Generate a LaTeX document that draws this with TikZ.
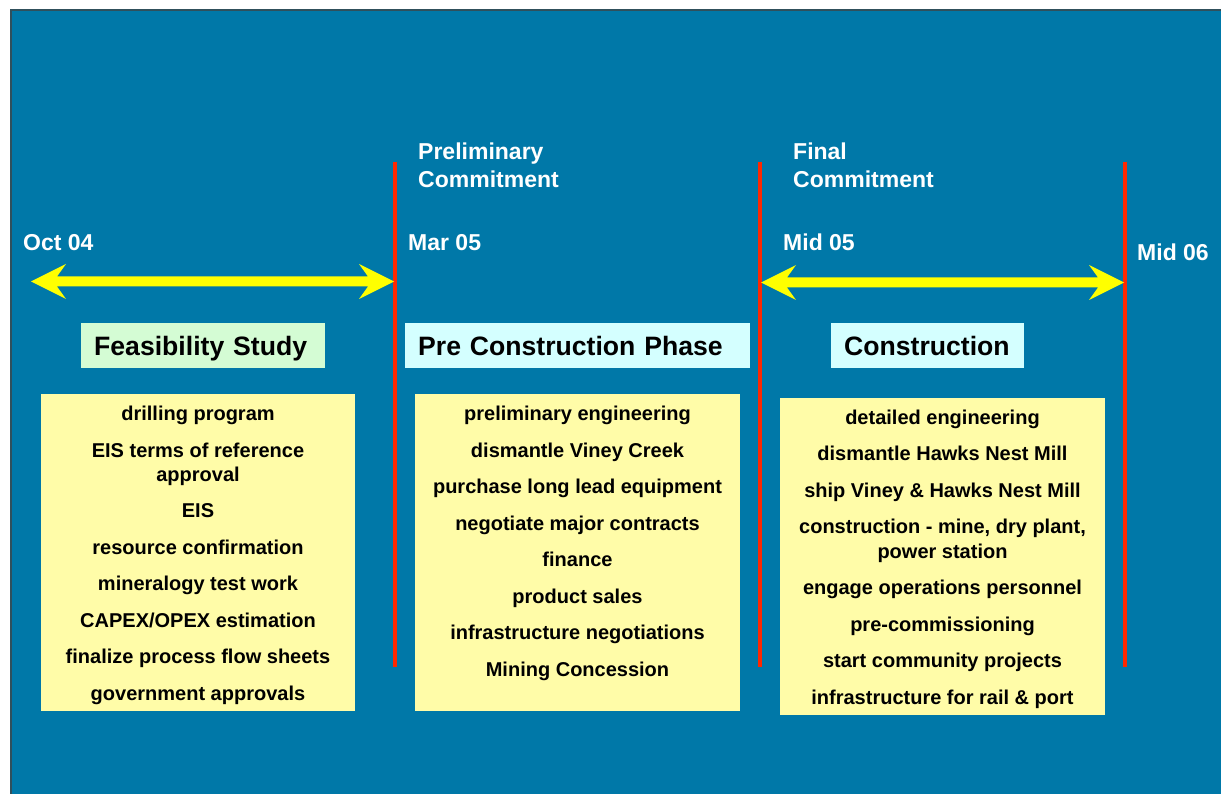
\documentclass[tikz,border=0pt]{standalone}
\usepackage{fontspec}
\setmainfont{Liberation Sans}
\usetikzlibrary{calc}
\definecolor{bgblue}{RGB}{0,120,168}
\definecolor{edgegray}{RGB}{48,80,92}
\definecolor{redline}{RGB}{255,40,0}
\definecolor{spanyellow}{RGB}{255,255,0}
\definecolor{noteyellow}{RGB}{255,252,168}
\definecolor{titlegreen}{RGB}{212,252,212}
\definecolor{titlecyan}{RGB}{212,255,255}
\newcommand{\spanarrow}[2]{%
  \fill[spanfill] (#1) -- ($(#1)+(35,-17.5)$) -- ($(#1)+(26,-5)$) -- ($(#2)+(-26,-5)$)
    -- ($(#2)+(-35,-17.5)$) -- (#2) -- ($(#2)+(-35,17.5)$) -- ($(#2)+(-26,5)$)
    -- ($(#1)+(26,5)$) -- ($(#1)+(35,17.5)$) -- cycle;}
\tikzset{
  lst/.style={font=\bfseries\fontsize{20}{24}\selectfont, text=black, anchor=base, inner sep=0pt},
  datelbl/.style={font=\bfseries\fontsize{23}{28}\selectfont, text=white, anchor=base west, inner sep=0pt},
  ttl/.style={font=\bfseries\fontsize{26.6}{30}\selectfont, text=black, inner xsep=13pt, inner ysep=0pt,
              text height=19.5pt, text depth=0pt,
              minimum height=45pt, align=left, anchor=north west},
  panel/.style={fill=noteyellow, draw=none, inner sep=0pt, anchor=north west},
  milestone/.style={draw=redline, line width=3.4pt},
  spanfill/.style={fill=spanyellow},
}
\begin{document}
\begin{tikzpicture}[x=1pt,y=-1pt]
\useasboundingbox (0,0) rectangle (1221,794);
% background
\fill[bgblue] (10,9) rectangle (1221,794);
\fill[edgegray] (10,9) rectangle (1221,11);
\fill[edgegray] (10,9) rectangle (12,794);

% milestone lines
\coordinate (m1t) at (395,162); \coordinate (m1b) at (395,667);
\coordinate (m2t) at (760,162); \coordinate (m2b) at (760,667);
\coordinate (m3t) at (1125,162); \coordinate (m3b) at (1125,667);
\draw[milestone] (m1t) -- (m1b);
\draw[milestone] (m2t) -- (m2b);
\draw[milestone] (m3t) -- (m3b);

% span arrows
\coordinate (a1L) at (31,281.5); \coordinate (a1R) at (394,281.5);
\coordinate (a2L) at (761,282.5); \coordinate (a2R) at (1124,282.5);
\spanarrow{a1L}{a1R}
\spanarrow{a2L}{a2R}

% labels
\node[datelbl] (oct) at (23,251) {Oct 04};
\node[datelbl] (mar) at (408,251) {Mar 05};
\node[datelbl] (mid5) at (783,251) {Mid 05};
\node[datelbl] (mid6) at (1137,261) {Mid 06};
\node[datelbl] (pre1) at (418,160) {Preliminary};
\node[datelbl] (pre2) at (418,188) {Commitment};
\node[datelbl] (fin1) at (793,160) {Final};
\node[datelbl] (fin2) at (793,188) {Commitment};

% phase titles
\node[ttl, fill=titlegreen, text width=218pt] (feas) at (81,323) {Feasibility Study};
\node[ttl, fill=titlecyan, text width=319pt] (prec) at (405,323) {Pre Construction Phase};
\node[ttl, fill=titlecyan, text width=167pt] (cons) at (831,323) {Construction};

% panels
\node[panel, minimum width=314pt, minimum height=317pt] (p1) at (41,394) {};
\node[panel, minimum width=325pt, minimum height=317pt] (p2) at (415,394) {};
\node[panel, minimum width=325pt, minimum height=317pt] (p3) at (780,398) {};

% feasibility items
\node[lst] (f1) at (198,420) {drilling program};
\node[lst] (f2) at (198,457) {EIS terms of reference};
\node[lst] (f2b) at (198,481) {approval};
\node[lst] (f3) at (198,517) {EIS};
\node[lst] (f4) at (198,554) {resource confirmation};
\node[lst] (f5) at (198,590) {mineralogy test work};
\node[lst] (f6) at (198,627) {CAPEX/OPEX estimation};
\node[lst] (f7) at (198,663) {finalize process flow sheets};
\node[lst] (f8) at (198,700) {government approvals};

% pre construction items
\node[lst] (g1) at (577.5,420) {preliminary engineering};
\node[lst] (g2) at (577.5,457) {dismantle Viney Creek};
\node[lst] (g3) at (577.5,493) {purchase long lead equipment};
\node[lst] (g4) at (577.5,530) {negotiate major contracts};
\node[lst] (g5) at (577.5,566) {finance};
\node[lst] (g6) at (577.5,603) {product sales};
\node[lst] (g7) at (577.5,639) {infrastructure negotiations};
\node[lst] (g8) at (577.5,676) {Mining Concession};

% construction items
\node[lst] (h1) at (942.5,424) {detailed engineering};
\node[lst] (h2) at (942.5,460) {dismantle Hawks Nest Mill};
\node[lst] (h3) at (942.5,497) {ship Viney \& Hawks Nest Mill};
\node[lst] (h4) at (942.5,533) {construction - mine, dry plant,};
\node[lst] (h4b) at (942.5,558) {power station};
\node[lst] (h5) at (942.5,594) {engage operations personnel};
\node[lst] (h6) at (942.5,631) {pre-commissioning};
\node[lst] (h7) at (942.5,667) {start community projects};
\node[lst] (h8) at (942.5,704) {infrastructure for rail \& port};
\end{tikzpicture}
\end{document}
